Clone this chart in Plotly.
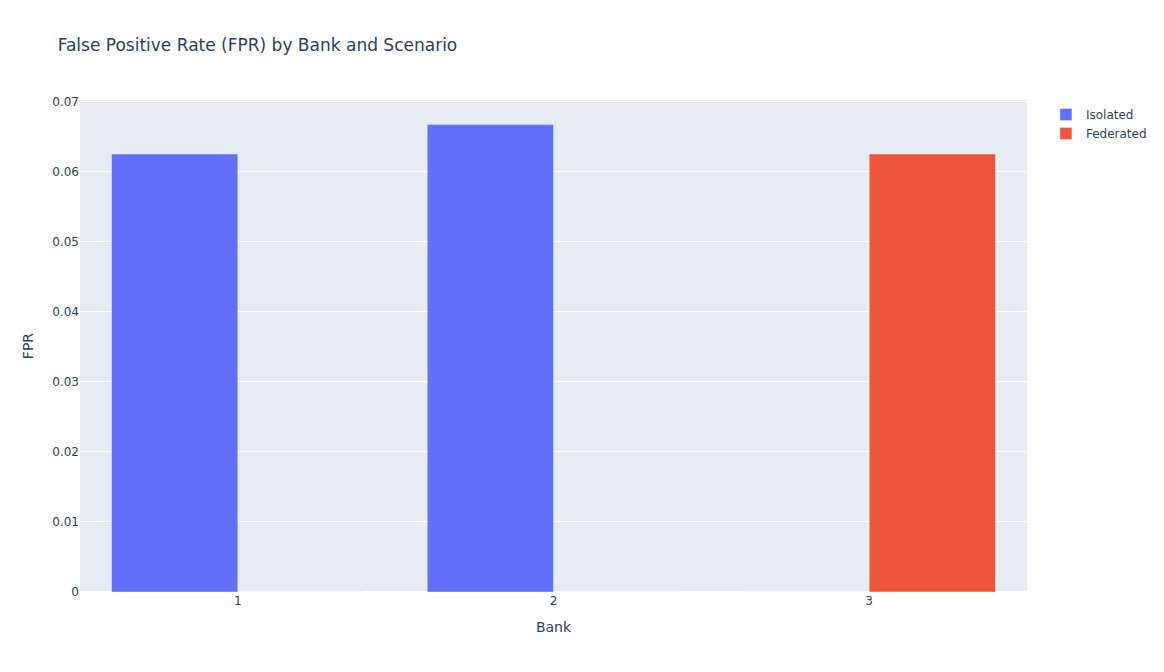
import plotly.graph_objects as go

banks = [1, 2, 3]
fpr_isolated = [0.0625, 0.0667, 0.0]
fpr_federated = [0.0, 0.0, 0.0625]

fig = go.Figure()
fig.add_trace(go.Bar(x=banks, y=fpr_isolated, name='Isolated', marker_color='#636efa'))
fig.add_trace(go.Bar(x=banks, y=fpr_federated, name='Federated', marker_color='#EF553B'))

fig.update_layout(
    title=dict(text='False Positive Rate (FPR) by Bank and Scenario',
               x=0.043, y=1 - 37 / 664, yanchor='middle'),
    barmode='group',
    xaxis_title='Bank',
    yaxis_title='FPR',
    legend_title_text='',
    font_family='Verdana, DejaVu Sans',
    width=1156,
    height=664,
    margin=dict(l=72, t=92, b=80),
)

fig.write_html("out.html")
